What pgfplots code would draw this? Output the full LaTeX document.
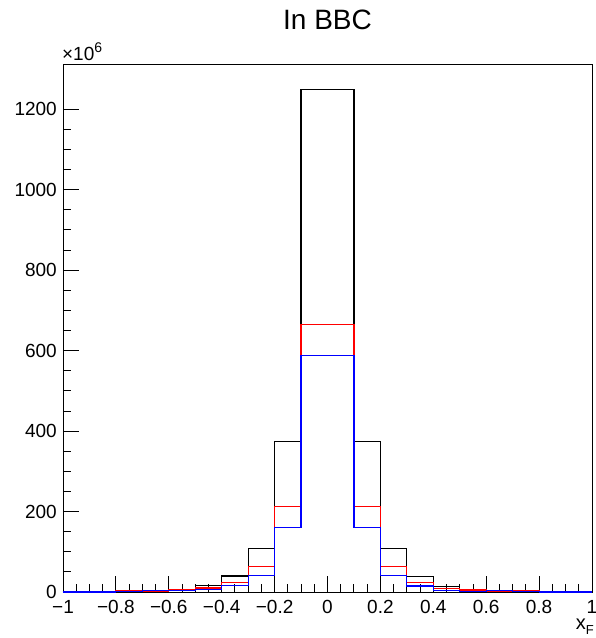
\documentclass[border=0pt]{standalone}
\usepackage{fontspec}
\setmainfont{Liberation Sans}
\usepackage{pgfplots}
\usepackage{pgfplotstable}
\pgfplotsset{compat=1.18}

% x_F distribution in BBC, counts in units of 10^6 per bin (bin width 0.1).
% Each row gives the lower bin edge; the last row closes the range at x_F = 1.
\pgfplotstableread{
x     black  red   blue
-1.0  0      0     0
-0.9  0      0     0
-0.8  0.5    3     0.5
-0.7  1.5    2     3
-0.6  3      7     3
-0.5  16     10    6
-0.4  40     23    16
-0.3  108    63    42
-0.2  374    212   160
-0.1  1250   665   587
0.0   1250   665   587
0.1   374    212   160
0.2   108    63    42
0.3   38     23    15
0.4   13     8     4
0.5   2      5     1
0.6   1.5    2     4
0.7   0.5    3     0.5
0.8   0      0     0
0.9   0      0     0
1.0   0      0     0
}\xfhist

\begin{document}
\begin{tikzpicture}[x=1pt,y=1pt]
\path[use as bounding box] (0,0) rectangle (596,638);
\begin{axis}[
  at={(63pt,46pt)}, anchor=south west,
  scale only axis, width=529pt, height=528pt,
  xmin=-1, xmax=1, ymin=0, ymax=1312.5,
  clip=false,
  axis line style={line width=0.9pt},
  xtick={-1,-0.8,...,1},
  xticklabels={−1,−0.8,−0.6,−0.4,−0.2,0,0.2,0.4,0.6,0.8,1},
  ytick={0,200,...,1200},
  minor x tick num=3, minor y tick num=3,
  xtick pos=lower, ytick pos=left,
  tick align=inside,
  major tick length=16pt, minor tick length=8pt,
  every tick/.style={black, line width=0.9pt},
  every tick label/.append style={inner sep=0pt, font=\fontsize{19}{22}\selectfont},
  xticklabel style={anchor=north, yshift=-8pt},
  yticklabel style={anchor=east, xshift=-6pt},
  /pgf/number format/assume math mode=true,
  scaled y ticks=false,
  yticklabel={\pgfmathprintnumber[fixed,precision=0,set thousands separator={}]{\tick}},
]
\addplot[const plot mark left, black, line width=1.2pt] table[x=x, y=black] {\xfhist};
\addplot[const plot mark left, red, line width=1.2pt] table[x=x, y=red] {\xfhist};
\addplot[const plot mark left, blue, line width=1.2pt] table[x=x, y=blue] {\xfhist};

\node[font=\fontsize{28}{32}\selectfont] at (axis description cs:0.5,1.083) {In BBC};
\node[anchor=base west, inner sep=0pt, font=\fontsize{19}{22}\selectfont]
  at (axis description cs:-0.002,1) [yshift=3pt] {×10\raisebox{0.8ex}{\fontsize{14}{16}\selectfont 6}};
\node[anchor=north east, inner sep=0pt, font=\fontsize{20}{22}\selectfont]
  at (axis description cs:1,0) [yshift=-27pt, xshift=2pt] {x\raisebox{-0.45ex}{\fontsize{13}{15}\selectfont F}};
\end{axis}
\end{tikzpicture}
\end{document}
